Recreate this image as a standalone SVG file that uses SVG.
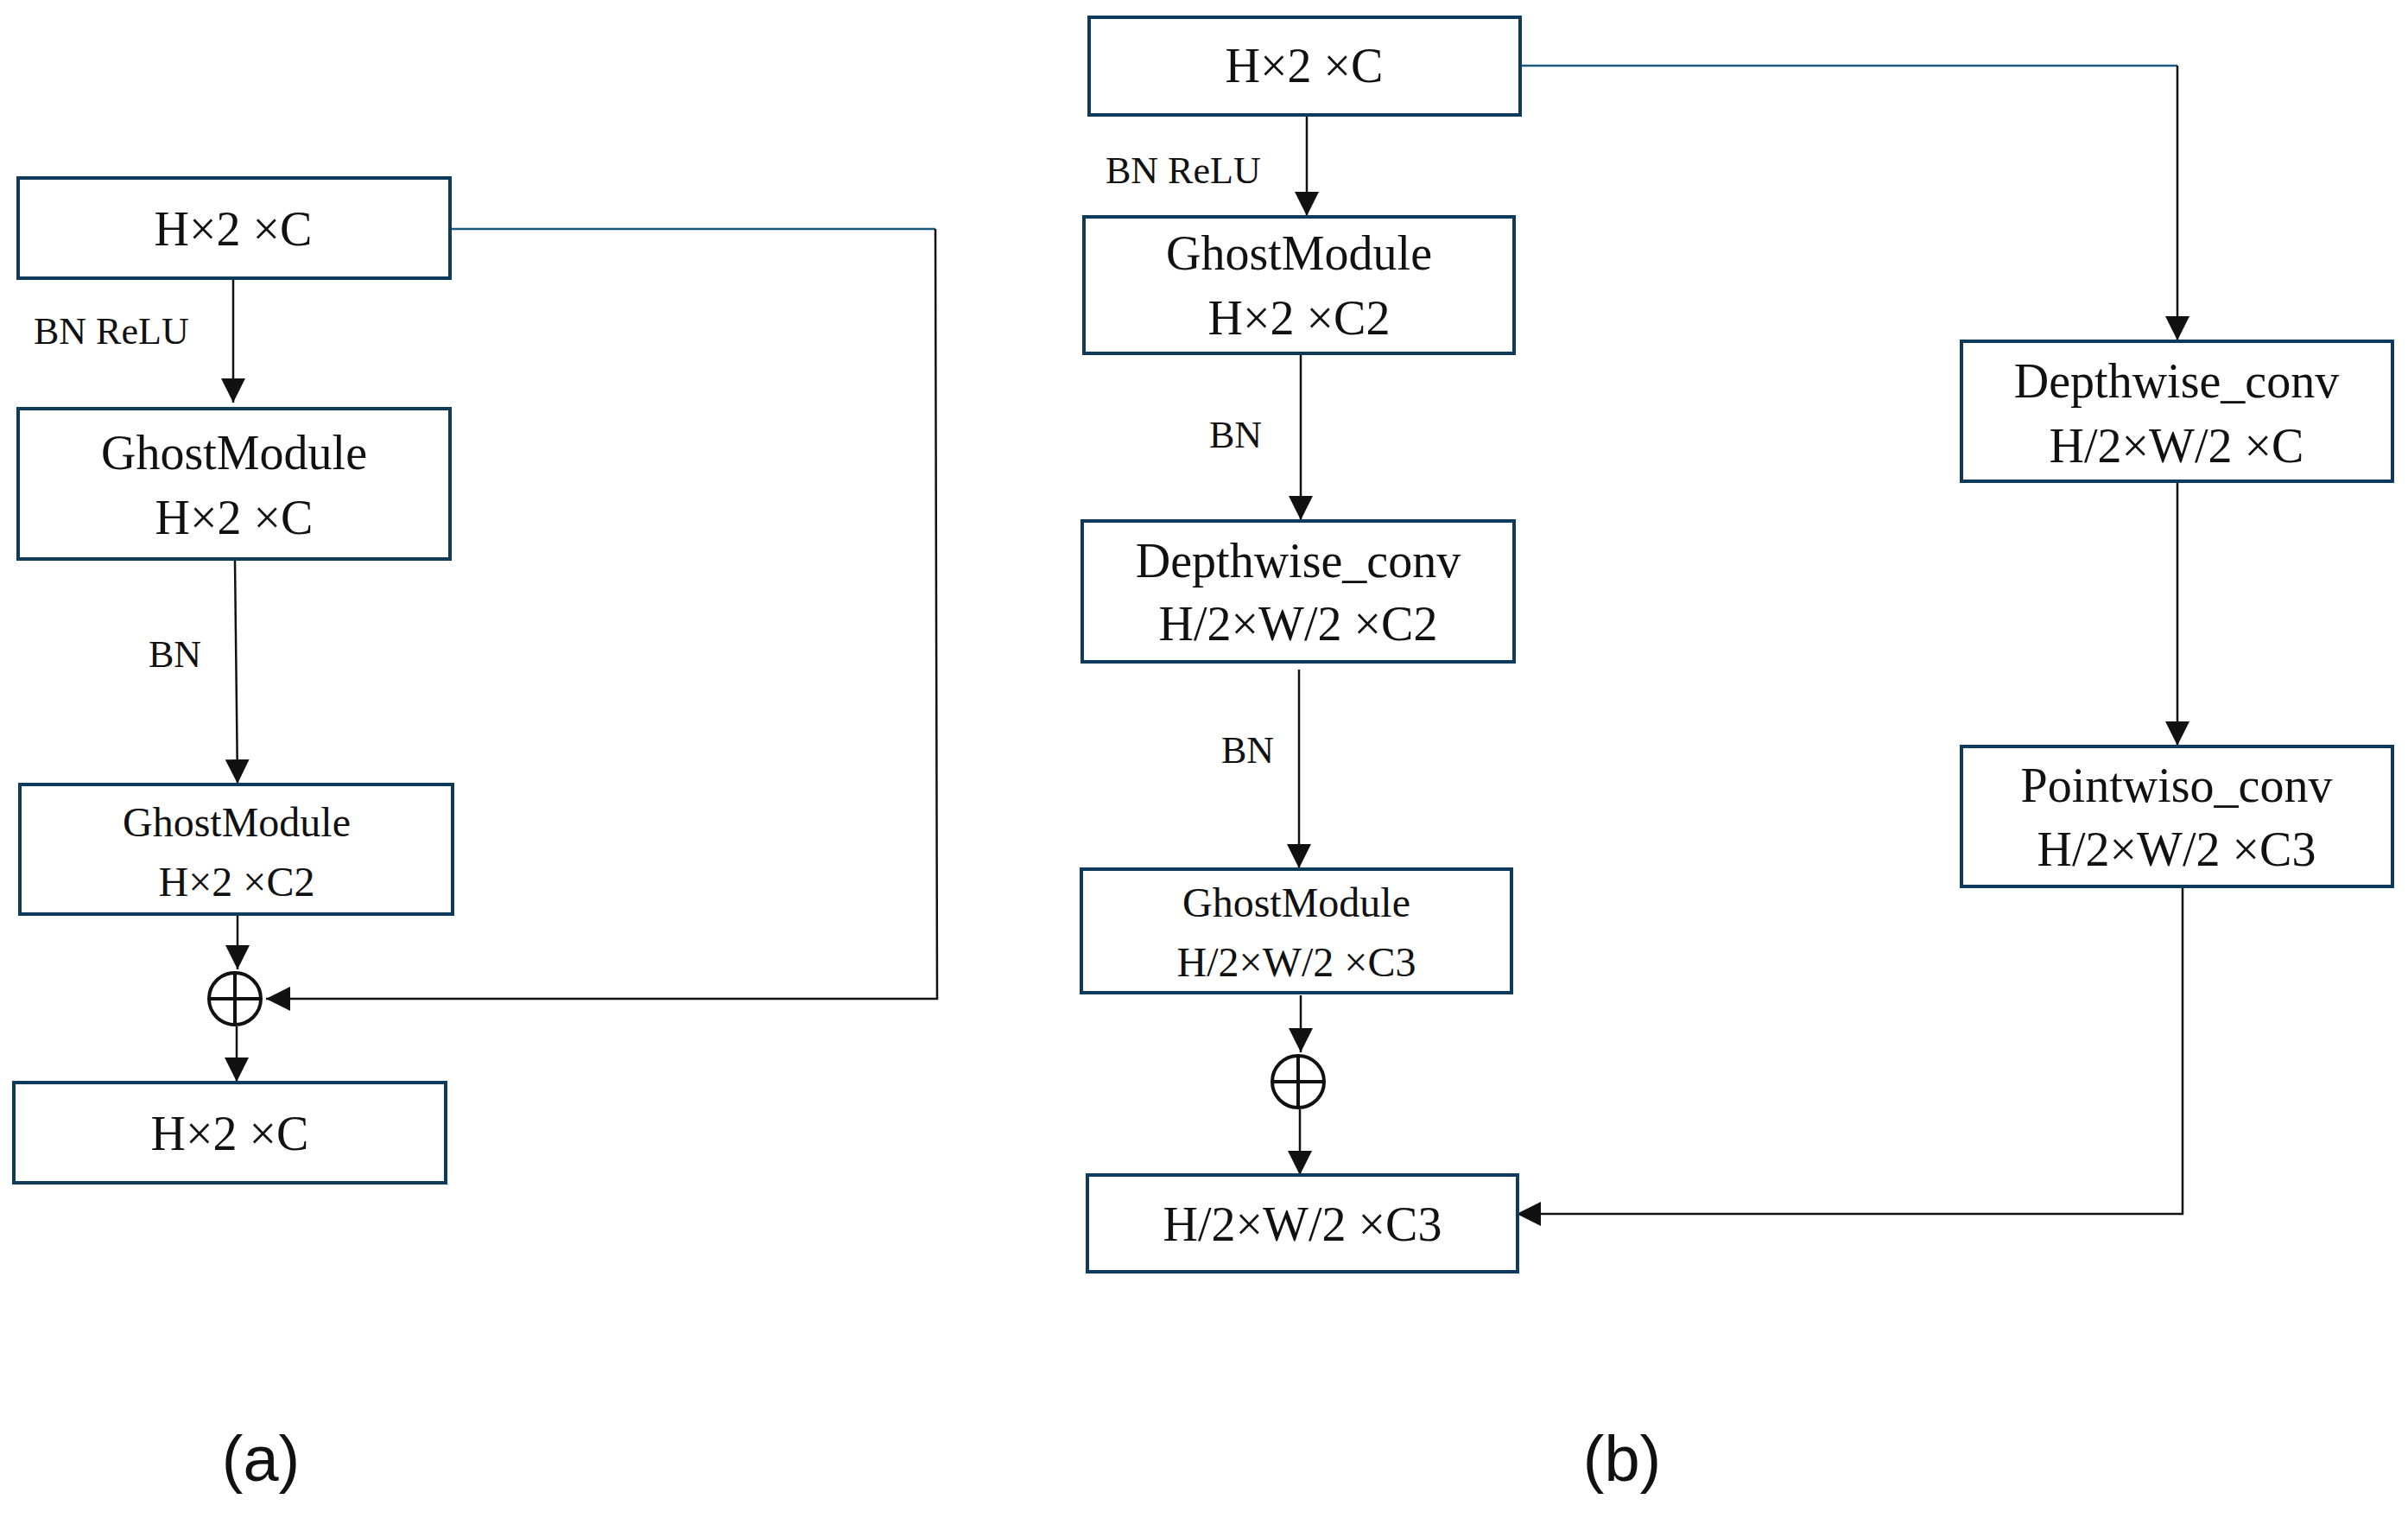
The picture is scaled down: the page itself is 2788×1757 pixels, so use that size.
<svg xmlns="http://www.w3.org/2000/svg" width="2788" height="1757" viewBox="0 0 2788 1757">
<defs>
<style>
.b{fill:#fff;stroke:#0e3a5c;stroke-width:4}
.t{font-family:"Liberation Serif",serif;font-size:56px;fill:#111;text-anchor:middle;dominant-baseline:central}
.s{font-size:48px}
.l{font-family:"Liberation Serif",serif;font-size:44px;fill:#111}
.c{stroke:#111;stroke-width:2.5;fill:none}
.sk{stroke:#1d5a80;stroke-width:2.5;fill:none}
.cap{font-family:"Liberation Sans",sans-serif;font-size:74px;fill:#111;text-anchor:middle}
</style>
<marker id="a" viewBox="0 0 10 10" refX="10" refY="5" markerWidth="10" markerHeight="10" markerUnits="userSpaceOnUse" orient="auto"><path d="M0,0 L10,5 L0,10 z" fill="#111"/></marker>
<marker id="ab" viewBox="0 0 10 10" refX="10" refY="5" markerWidth="28" markerHeight="28" markerUnits="userSpaceOnUse" orient="auto"><path d="M0,0 L10,5 L0,10 z" fill="#111"/></marker>
</defs>
<g id="connectors">
<path class="c" d="M270,322 V466" marker-end="url(#ab)"/>
<path class="c" d="M272,649 L275,907" marker-end="url(#ab)"/>
<path class="c" d="M275,1058 V1122" marker-end="url(#ab)"/>
<path class="c" d="M274,1188 V1252" marker-end="url(#ab)"/>
<path class="sk" d="M521,265 H1083"/>
<path class="c" d="M1083,265 L1085,1156 H308" marker-end="url(#ab)"/>
<path class="c" d="M1513,133 V250" marker-end="url(#ab)"/>
<path class="c" d="M1506,409 V602" marker-end="url(#ab)"/>
<path class="c" d="M1504,775 V1005" marker-end="url(#ab)"/>
<path class="c" d="M1506,1152 V1218" marker-end="url(#ab)"/>
<path class="c" d="M1505,1284 V1360" marker-end="url(#ab)"/>
<path class="sk" d="M1760,76 H2521"/>
<path class="c" d="M2521,76 V394" marker-end="url(#ab)"/>
<path class="c" d="M2521,557 V863" marker-end="url(#ab)"/>
<path class="c" d="M2527,1026 V1405 H1756" marker-end="url(#ab)"/>
</g>
<g id="labels">
<text class="l" x="39" y="398">BN ReLU</text>
<text class="l" x="172" y="772">BN</text>
<text class="l" x="1280" y="212">BN ReLU</text>
<text class="l" x="1400" y="518">BN</text>
<text class="l" x="1414" y="883">BN</text>
</g>
<g id="a1"><rect class="b" x="21" y="206" width="500" height="116"/><text class="t" x="270" y="265">H×2 ×C</text></g>
<g id="a2"><rect class="b" x="21" y="473" width="500" height="174"/><text class="t" x="271" y="524">GhostModule</text><text class="t" x="271" y="599">H×2 ×C</text></g>
<g id="a3"><rect class="b" x="23" y="908" width="501" height="150"/><text class="t s" x="274" y="951">GhostModule</text><text class="t s" x="274" y="1020">H×2 ×C2</text></g>
<g id="aplus"><circle cx="272" cy="1156" r="30" fill="#fff" stroke="#111" stroke-width="4"/><path d="M242,1156 H302 M272,1126 V1186" stroke="#111" stroke-width="4"/></g>
<g id="a4"><rect class="b" x="16" y="1253" width="500" height="116"/><text class="t" x="266" y="1312">H×2 ×C</text></g>
<g id="b1"><rect class="b" x="1261" y="20" width="499" height="113"/><text class="t" x="1510" y="76">H×2 ×C</text></g>
<g id="b2"><rect class="b" x="1255" y="251" width="498" height="158"/><text class="t" x="1504" y="293">GhostModule</text><text class="t" x="1504" y="368">H×2 ×C2</text></g>
<g id="b3"><rect class="b" x="1253" y="603" width="500" height="163"/><text class="t" x="1503" y="649">Depthwise_conv</text><text class="t" x="1503" y="722">H/2×W/2 ×C2</text></g>
<g id="b4"><rect class="b" x="1252" y="1006" width="498" height="143"/><text class="t s" x="1501" y="1044">GhostModule</text><text class="t s" x="1501" y="1113">H/2×W/2 ×C3</text></g>
<g id="bplus"><circle cx="1503" cy="1252" r="30" fill="#fff" stroke="#111" stroke-width="4"/><path d="M1473,1252 H1533 M1503,1222 V1282" stroke="#111" stroke-width="4"/></g>
<g id="b5"><rect class="b" x="1259" y="1360" width="498" height="112"/><text class="t" x="1508" y="1417">H/2×W/2 ×C3</text></g>
<g id="b6"><rect class="b" x="2271" y="395" width="499" height="162"/><text class="t" x="2520" y="441">Depthwise_conv</text><text class="t" x="2520" y="516">H/2×W/2 ×C</text></g>
<g id="b7"><rect class="b" x="2271" y="864" width="499" height="162"/><text class="t" x="2520" y="909">Pointwiso_conv</text><text class="t" x="2520" y="983">H/2×W/2 ×C3</text></g>
<text class="cap" x="302" y="1714">(a)</text>
<text class="cap" x="1878" y="1714">(b)</text>
</svg>
